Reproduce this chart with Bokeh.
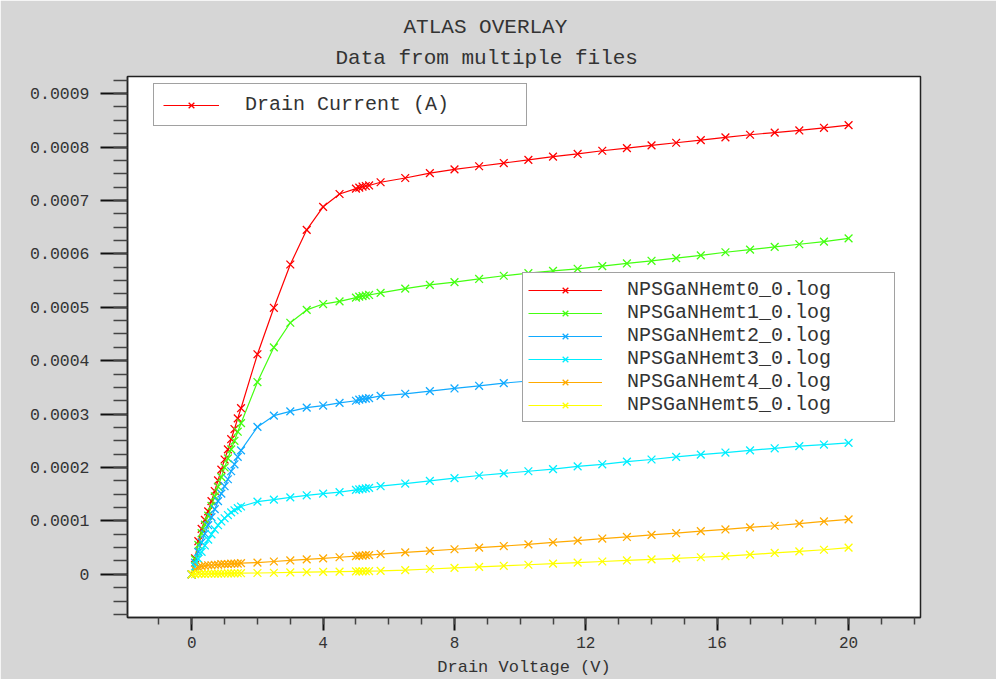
import numpy as np
from bokeh.plotting import figure
from bokeh.models import (Legend, LegendItem, Title, Range1d, SingleIntervalTicker,
                          CustomJSTickFormatter)
from bokeh.embed import file_html
from bokeh.resources import INLINE

# ---------------- data ----------------
title_main = "ATLAS OVERLAY"
title_sub = "Data from multiple files"
x_label = "Drain Voltage (V)"
quantity_label = "Drain Current (A)"

drain_voltage = [0.0, 0.1, 0.2, 0.3, 0.4, 0.5, 0.6, 0.7, 0.8, 0.9, 1.0, 1.1, 1.2, 1.3, 1.4, 1.5,
                 2.0, 2.5, 3.0, 3.5, 4.0, 4.5, 5.0, 5.1, 5.2, 5.3, 5.4,
                 5.75, 6.5, 7.25, 8.0, 8.75, 9.5, 10.25, 11.0, 11.75, 12.5, 13.25, 14.0,
                 14.75, 15.5, 16.25, 17.0, 17.75, 18.5, 19.25, 20.0]

# drain current in units of 1e-4 A
hemt0 = [0.0, 0.30, 0.62, 0.85, 1.02, 1.18, 1.37, 1.56, 1.76, 1.96, 2.15, 2.34, 2.53, 2.72, 2.92, 3.11,
         4.12, 4.99, 5.80, 6.45, 6.88, 7.12, 7.22, 7.24, 7.26, 7.27, 7.28,
         7.34, 7.42, 7.51, 7.58, 7.64, 7.70, 7.76, 7.82, 7.87, 7.93, 7.98, 8.03, 8.08, 8.13,
         8.18, 8.23, 8.27, 8.31, 8.36, 8.41]
hemt1 = [0.0, 0.28, 0.55, 0.77, 0.93, 1.10, 1.28, 1.46, 1.64, 1.82, 2.00, 2.17, 2.34, 2.50, 2.67, 2.83,
         3.60, 4.25, 4.71, 4.95, 5.06, 5.11, 5.18, 5.20, 5.21, 5.22, 5.23,
         5.27, 5.35, 5.42, 5.47, 5.53, 5.59, 5.64, 5.68, 5.72, 5.77, 5.82, 5.87, 5.92, 5.97,
         6.03, 6.08, 6.13, 6.18, 6.23, 6.29]
hemt2 = [0.0, 0.22, 0.42, 0.60, 0.76, 0.92, 1.07, 1.22, 1.37, 1.51, 1.65, 1.78, 1.93, 2.06, 2.20, 2.32,
         2.76, 2.97, 3.05, 3.12, 3.16, 3.21, 3.25, 3.27, 3.28, 3.29, 3.30,
         3.34, 3.38, 3.43, 3.48, 3.53, 3.58, 3.62, 3.66, 3.70, 3.74, 3.78, 3.82, 3.86, 3.90,
         3.94, 3.98, 4.02, 4.06, 4.10, 4.14]
hemt3 = [0.0, 0.15, 0.29, 0.42, 0.54, 0.65, 0.75, 0.84, 0.92, 0.99, 1.05, 1.11, 1.16, 1.20, 1.24, 1.27,
         1.36, 1.40, 1.44, 1.48, 1.51, 1.54, 1.58, 1.59, 1.60, 1.61, 1.62,
         1.65, 1.70, 1.75, 1.80, 1.85, 1.89, 1.93, 1.97, 2.02, 2.06, 2.11, 2.15, 2.20, 2.24,
         2.28, 2.32, 2.36, 2.40, 2.43, 2.46]
hemt4 = [0.0, 0.09, 0.13, 0.15, 0.16, 0.17, 0.17, 0.18, 0.18, 0.19, 0.19, 0.19, 0.20, 0.20, 0.20, 0.21,
         0.22, 0.24, 0.26, 0.28, 0.30, 0.32, 0.34, 0.35, 0.35, 0.36, 0.36,
         0.38, 0.41, 0.44, 0.47, 0.50, 0.53, 0.56, 0.60, 0.63, 0.67, 0.70, 0.74, 0.77, 0.81,
         0.84, 0.88, 0.91, 0.95, 0.99, 1.03]
hemt5 = [0.0, 0.003, 0.006, 0.008, 0.010, 0.011, 0.012, 0.013, 0.014, 0.015, 0.016, 0.017, 0.018,
         0.019, 0.020, 0.021,
         0.025, 0.030, 0.035, 0.040, 0.045, 0.050, 0.055, 0.056, 0.057, 0.058, 0.060,
         0.065, 0.08, 0.10, 0.12, 0.14, 0.16, 0.18, 0.20, 0.22, 0.24, 0.26, 0.28, 0.30, 0.32,
         0.34, 0.37, 0.40, 0.43, 0.46, 0.50]
current_unit = 1e-4

series_names = ["NPSGaNHemt0_0.log", "NPSGaNHemt1_0.log", "NPSGaNHemt2_0.log",
                "NPSGaNHemt3_0.log", "NPSGaNHemt4_0.log", "NPSGaNHemt5_0.log"]
series_values = [hemt0, hemt1, hemt2, hemt3, hemt4, hemt5]
series_colors = ["#ff0000", "#44ff11", "#11aaff", "#00eeff", "#ffaa00", "#ffff00"]

# ---------------- figure ----------------
FONT = "Liberation Mono"
GRAY = "#d6d6d6"
TXT = "#333333"

p = figure(width=996, height=679, output_backend="svg", toolbar_location=None,
           x_range=Range1d(-1.957, 22.19), y_range=Range1d(-0.0000808, 0.000932),
           min_border_left=127, min_border_right=76, min_border_top=76, min_border_bottom=60)
p.border_fill_color = GRAY
p.background_fill_color = "white"
p.outline_line_color = "#222222"
p.outline_line_width = 1.5
p.grid.visible = False

# axes
p.xaxis.ticker = SingleIntervalTicker(interval=4, num_minor_ticks=4)
p.yaxis.ticker = SingleIntervalTicker(interval=0.0001, num_minor_ticks=4)
p.yaxis.formatter = CustomJSTickFormatter(
    code="return Math.abs(tick) < 1e-12 ? '0' : tick.toFixed(4);")
for ax in (p.xaxis[0], p.yaxis[0]):
    ax.axis_line_color = "#222222"
    ax.axis_line_width = 1.5
    ax.major_tick_line_color = "#111111"
    ax.major_tick_line_width = 2
    ax.minor_tick_line_color = "#444444"
    ax.minor_tick_line_width = 1.5
    ax.major_tick_in = 0
    ax.minor_tick_in = 0
    ax.major_label_text_font = FONT
    ax.major_label_text_color = TXT
p.yaxis.major_tick_out = 27
p.yaxis.minor_tick_out = 14
p.yaxis.major_label_standoff = 11
p.yaxis.major_label_text_font_size = "16.5px"
p.xaxis.major_tick_out = 13
p.xaxis.minor_tick_out = 7
p.xaxis.major_label_standoff = 6
p.xaxis.major_label_text_font_size = "16px"
p.xaxis.axis_label = x_label
p.xaxis.axis_label_text_font = FONT
p.xaxis.axis_label_text_font_size = "17px"
p.xaxis.axis_label_text_font_style = "normal"
p.xaxis.axis_label_text_color = TXT
p.xaxis.axis_label_standoff = 7

# titles
p.add_layout(Title(text=title_sub, align="left", offset=208, text_font=FONT,
                   text_font_size="21px", text_font_style="normal", text_color=TXT,
                   text_line_height=1.0, standoff=13), "above")
p.add_layout(Title(text=title_main, align="left", offset=276, text_font=FONT,
                   text_font_size="21px", text_font_style="normal", text_color=TXT,
                   standoff=0), "above")

# data
V = np.array(drain_voltage)
items = []
first = None
for name, vals, col in zip(series_names, series_values, series_colors):
    I = np.array(vals) * current_unit
    ln = p.line(V, I, line_color=col, line_width=1.2)
    sc = p.scatter(V, I, marker="x", size=11, line_color=col, line_width=1.3)
    items.append(LegendItem(label=name, renderers=[ln, sc]))
    if first is None:
        first = [ln, sc]

def style_legend(lg):
    lg.label_text_font = FONT
    lg.label_text_font_size = "20px"
    lg.label_text_color = TXT
    lg.border_line_color = "#444444"
    lg.border_line_width = 1.5
    lg.background_fill_color = "white"
    lg.background_fill_alpha = 1.0
    lg.spacing = 0
    lg.margin = 0
    lg.glyph_height = 20

leg1 = Legend(items=[LegendItem(label=quantity_label, renderers=first)],
              location=(26, 491))
style_legend(leg1)
leg1.padding = 9
leg1.glyph_width = 56
leg1.label_standoff = 26
leg1.label_width = 272
p.add_layout(leg1, "center")

leg2 = Legend(items=items, location=(395, 195))
style_legend(leg2)
leg2.padding = 5
leg2.glyph_width = 74
leg2.label_standoff = 25
leg2.label_width = 262
p.add_layout(leg2, "center")

open("out.html", "w").write(file_html(p, INLINE))
